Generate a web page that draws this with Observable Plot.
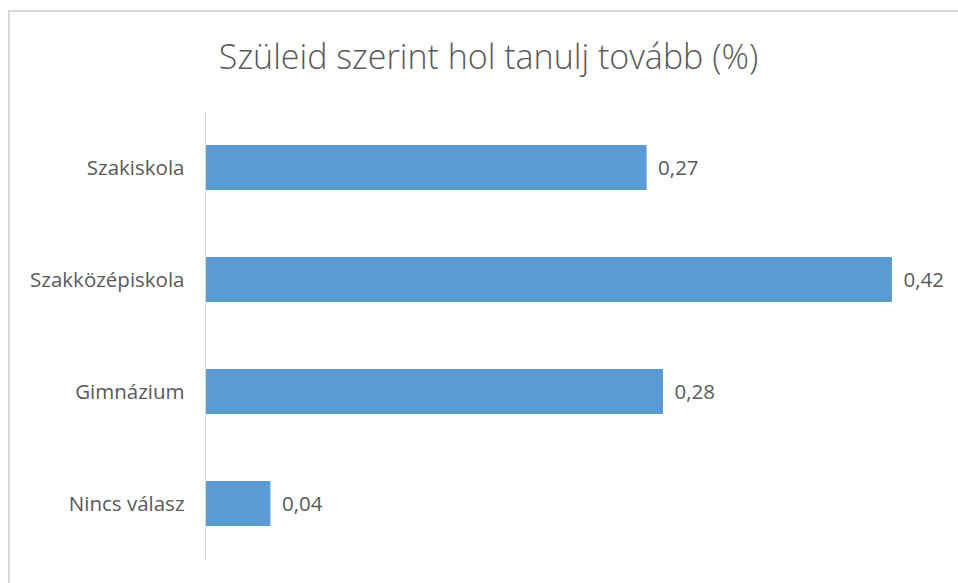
<!DOCTYPE html>
<html>
<head>
<meta charset="utf-8">
<script src="https://cdn.jsdelivr.net/npm/d3@7"></script>
<script src="https://cdn.jsdelivr.net/npm/@observablehq/plot@0.6"></script>
<style>
  html, body { margin: 0; padding: 0; background: #fff; }
  #wrap { position: relative; width: 958px; height: 583px; overflow: hidden; font-family: "Open Sans", "Noto Sans", sans-serif; }
  #frame { position: absolute; left: 8px; top: 10px; width: 1000px; height: 1000px; border: 2px solid #d9d9d9; box-sizing: border-box; }
  #title { position: absolute; left: 0; width: 977px; top: 39px; line-height: 34px; text-align: center; font-size: 34px; font-weight: 300; color: #595959; white-space: nowrap; }
  #chart { position: absolute; left: 0; top: 0; }
</style>
</head>
<body>
<div id="wrap">
  <div id="frame"></div>
  <div id="title">Szüleid szerint hol tanulj tovább (%)</div>
  <div id="chart"></div>
</div>
<script>
const categories = ["Szakiskola", "Szakközépiskola", "Gimnázium", "Nincs válasz"];
const values = [0.27, 0.42, 0.28, 0.04];
const xMax = 0.45;

const data = categories.map((c, i) => ({category: c, value: values[i]}));
const fmt = v => d3.format(".2f")(v).replace(".", ",");

const chart = Plot.plot({
  width: 958,
  height: 583,
  marginLeft: 205,
  marginRight: 17,
  marginTop: 111,
  marginBottom: 23,
  style: {background: "transparent", fontFamily: "'Open Sans', 'Noto Sans', sans-serif", fontSize: "20.5px", color: "#595959"},
  x: {domain: [0, xMax], axis: null},
  y: {domain: categories, paddingInner: 0.6, paddingOuter: 0.3, label: null, tickSize: 0, tickPadding: 21},
  marks: [
    Plot.barX(data, {x: "value", y: "category", fill: "#5b9bd5"}),
    Plot.ruleX([0], {stroke: "#d9d9d9", strokeWidth: 1}),
    Plot.text(data, {x: "value", y: "category", text: d => fmt(d.value), textAnchor: "start", dx: 11, fill: "#595959", fontSize: 20.5})
  ]
});
document.getElementById("chart").appendChild(chart);
</script>
</body>
</html>
